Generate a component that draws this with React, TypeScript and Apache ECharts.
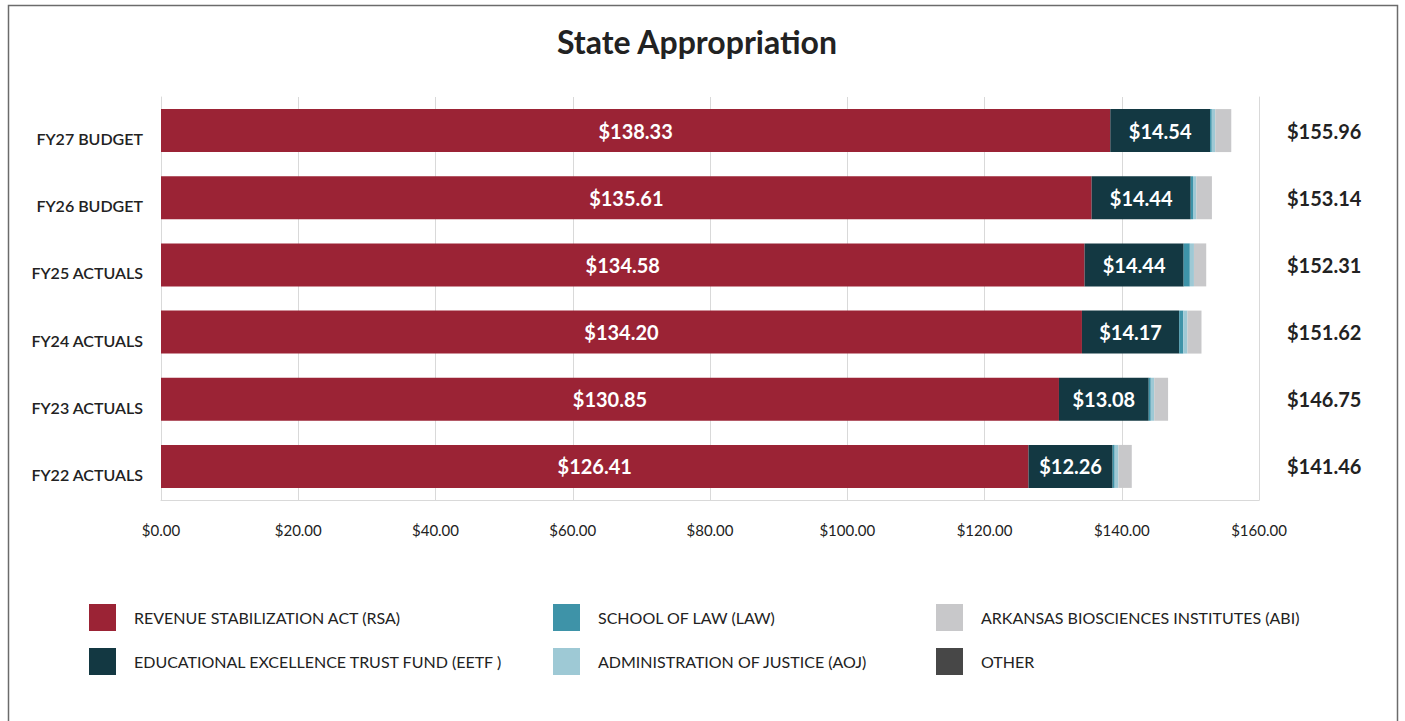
import React, { useEffect, useRef } from "react";
import * as echarts from "echarts";

const categories = ["FY27 BUDGET", "FY26 BUDGET", "FY25 ACTUALS", "FY24 ACTUALS", "FY23 ACTUALS", "FY22 ACTUALS"];
const rsa = [138.33, 135.61, 134.58, 134.2, 130.85, 126.41];
const eetf = [14.54, 14.44, 14.44, 14.17, 13.08, 12.26];
const law = [0.25, 0.33, 0.9, 0.6, 0.3, 0.3];
const aoj = [0.5, 0.48, 0.6, 0.6, 0.5, 0.55];
const abi = [2.34, 2.28, 1.79, 2.05, 2.02, 1.94];
const other = [0, 0, 0, 0, 0, 0];
const xTicks = { min: 0, max: 160, interval: 20 };

const names = {
  rsa: "REVENUE STABILIZATION ACT (RSA)",
  eetf: "EDUCATIONAL EXCELLENCE TRUST FUND (EETF )",
  law: "SCHOOL OF LAW (LAW)",
  aoj: "ADMINISTRATION OF JUSTICE (AOJ)",
  abi: "ARKANSAS BIOSCIENCES INSTITUTES (ABI)",
  other: "OTHER",
};

const colors = {
  rsa: "#9B2335",
  eetf: "#133842",
  law: "#3E93A8",
  aoj: "#9EC9D5",
  abi: "#C8C8CA",
  other: "#474747",
};

const FONT = "Lato, 'Open Sans', sans-serif";

export default function App() {
  const ref = useRef<HTMLDivElement>(null);
  useEffect(() => {
    if (!ref.current) return;
    const chart = echarts.init(ref.current, undefined, { renderer: "svg" });
    const totals = categories.map((_, i) => rsa[i] + eetf[i] + law[i] + aoj[i] + abi[i] + other[i]);
    const fmt = (v: number) => "$" + v.toFixed(2);
    const insideLabel = {
      show: true,
      position: "inside",
      color: "#ffffff",
      fontFamily: FONT,
      fontWeight: "bold",
      fontSize: 20,
      formatter: (p: any) => fmt(p.value),
    };
    const mk = (key: keyof typeof names, data: number[], label?: any) => ({
      name: names[key],
      type: "bar",
      stack: "total",
      yAxisIndex: 0,
      barCategoryGap: "36%",
      itemStyle: { color: colors[key] },
      label: label || { show: false },
      data,
    });
    const legendText = {
      fontFamily: FONT,
      fontSize: 16,
      color: "#222",
      padding: [0, 0, 0, 13],
    };
    const legendBase = {
      orient: "vertical",
      top: 599,
      itemWidth: 27,
      itemHeight: 27,
      itemGap: 17,
      icon: "rect",
      textStyle: legendText,
      selectedMode: false,
    };
    chart.setOption({
      animation: false,
      backgroundColor: "#ffffff",
      title: {
        text: "State Appropriation",
        left: 692,
        textAlign: "center",
        top: 20,
        textStyle: { fontFamily: FONT, fontWeight: "bold", fontSize: 32, color: "#222" },
      },
      graphic: [
        {
          type: "rect",
          shape: { x: 8.5, y: 5.5, width: 1389, height: 740 },
          style: { fill: "none", stroke: "#6b6b6b", lineWidth: 1.5 },
          silent: true,
        },
      ],
      legend: [
        { ...legendBase, left: 84, data: [names.rsa, names.eetf] },
        { ...legendBase, left: 548, data: [names.law, names.aoj] },
        { ...legendBase, left: 931, data: [names.abi, names.other] },
      ],
      grid: { left: 161, right: 146, top: 97, bottom: 221, containLabel: false },
      xAxis: {
        type: "value",
        min: xTicks.min,
        max: xTicks.max,
        interval: xTicks.interval,
        axisLine: { show: true, lineStyle: { color: "#d9d9d9" } },
        axisTick: { show: false },
        splitLine: { show: true, lineStyle: { color: "#d9d9d9" } },
        axisLabel: { formatter: (v: number) => fmt(v), fontFamily: FONT, fontSize: 15, color: "#222", margin: 22 },
      },
      yAxis: [
        {
          type: "category",
          data: categories,
          inverse: true,
          axisLine: { show: true, lineStyle: { color: "#d9d9d9" } },
          axisTick: { show: false },
          axisLabel: {
            fontFamily: FONT,
            fontWeight: 600,
            fontSize: 16,
            color: "#222",
            margin: 18,
            verticalAlign: "top",
          },
        },
        {
          type: "category",
          data: categories,
          inverse: true,
          position: "right",
          axisLine: { show: true, lineStyle: { color: "#d9d9d9" } },
          axisTick: { show: false },
          axisLabel: {
            fontFamily: FONT,
            fontWeight: "bold",
            fontSize: 20,
            color: "#222",
            margin: 28,
            formatter: (_: string, i: number) => fmt(totals[i]),
          },
        },
      ],
      series: [
        mk("rsa", rsa, insideLabel),
        mk("eetf", eetf, insideLabel),
        mk("law", law),
        mk("aoj", aoj),
        mk("abi", abi),
        mk("other", other),
      ],
    });
    return () => chart.dispose();
  }, []);
  return (
    <div
      ref={ref}
      style={{ position: "fixed", left: 0, top: 0, width: 1405, height: 721 }}
    />
  );
}
